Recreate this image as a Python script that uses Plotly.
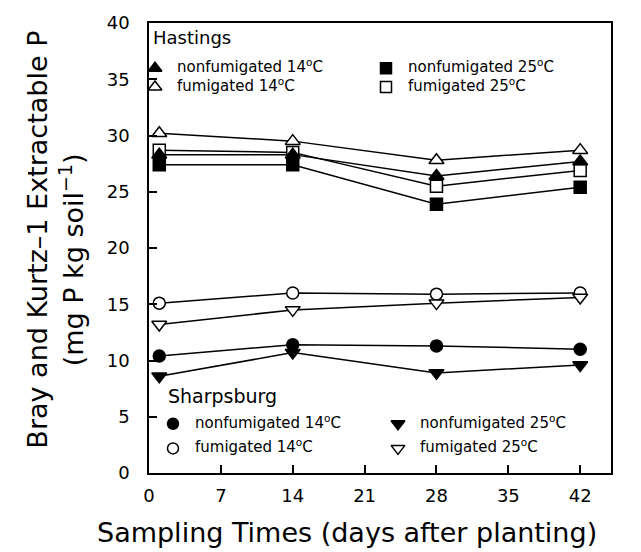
import plotly.graph_objects as go

# ---- data ----
days = [1, 14, 28, 42]

# Hastings
hast_nonfum_14 = [28.3, 28.3, 26.4, 27.7]
hast_fum_14 = [30.2, 29.5, 27.8, 28.7]
hast_nonfum_25 = [27.4, 27.4, 23.9, 25.4]
hast_fum_25 = [28.7, 28.5, 25.5, 26.9]

# Sharpsburg
sharp_nonfum_14 = [10.4, 11.4, 11.3, 11.0]
sharp_fum_14 = [15.1, 16.0, 15.9, 16.0]
sharp_nonfum_25 = [8.6, 10.7, 8.9, 9.6]
sharp_fum_25 = [13.2, 14.5, 15.1, 15.6]

x_ticks = [0, 7, 14, 21, 28, 35, 42]
y_ticks = [0, 5, 10, 15, 20, 25, 30, 35, 40]

FONT = "DejaVu Sans"

series = [
    (hast_fum_14, "triangle-up-open"),
    (hast_fum_25, "square-open"),
    (hast_nonfum_14, "triangle-up"),
    (hast_nonfum_25, "square"),
    (sharp_fum_14, "circle-open"),
    (sharp_fum_25, "triangle-down-open"),
    (sharp_nonfum_14, "circle"),
    (sharp_nonfum_25, "triangle-down"),
]

fig = go.Figure()
for vals, sym in series:
    open_ = sym.endswith("-open")
    base = sym.replace("-open", "")
    fig.add_trace(go.Scatter(
        x=days, y=vals, mode="lines+markers",
        line=dict(color="black", width=1.5),
        marker=dict(symbol=base, size=13 if "triangle" in base else 12,
                    color="white" if open_ else "black",
                    line=dict(color="black", width=1.5)),
        showlegend=False, cliponaxis=False,
    ))

# ---- legend (overlay axes in paper units) ----
L, R, T, B = 149, 611, 16, 473
W, H = R - L, B - T


def px(x):
    return (x - L) / W


def py(y):
    return (B - y) / H


legend_items = [
    # (marker px x, px y, symbol, open, text)
    (155, 62, "triangle-up", False, "nonfumigated 14<sup>o</sup>C"),
    (155, 81, "triangle-up", True, "fumigated 14<sup>o</sup>C"),
    (386, 62, "square", False, "nonfumigated 25<sup>o</sup>C"),
    (386, 81, "square", True, "fumigated 25<sup>o</sup>C"),
    (173, 423, "circle", False, "nonfumigated 14<sup>o</sup>C"),
    (173, 448, "circle", True, "fumigated 14<sup>o</sup>C"),
    (398, 423, "triangle-down", False, "nonfumigated 25<sup>o</sup>C"),
    (398, 448, "triangle-down", True, "fumigated 25<sup>o</sup>C"),
]

for mx, my, sym, open_, _ in legend_items:
    fig.add_trace(go.Scatter(
        x=[px(mx)], y=[py(my)], xaxis="x2", yaxis="y2", mode="markers",
        marker=dict(symbol=sym, size=12 if "triangle" in sym else 11,
                    color="white" if open_ else "black",
                    line=dict(color="black", width=1.5)),
        showlegend=False, hoverinfo="skip",
    ))

annotations = []
for mx, my, sym, open_, txt in legend_items:
    annotations.append(dict(
        x=px(mx + 20), y=py(my - 2), xref="paper", yref="paper",
        text=txt, showarrow=False, xanchor="left", yanchor="middle",
        font=dict(family=FONT, size=15, color="black"),
    ))
annotations.append(dict(x=px(151), y=py(31), xref="paper", yref="paper",
                        text="Hastings", showarrow=False, xanchor="left", yanchor="middle",
                        font=dict(family=FONT, size=18, color="black")))
annotations.append(dict(x=px(166), y=py(395), xref="paper", yref="paper",
                        text="Sharpsburg", showarrow=False, xanchor="left", yanchor="middle",
                        font=dict(family=FONT, size=19, color="black")))
# axis titles
annotations.append(dict(x=px(347), y=py(533), xref="paper", yref="paper",
                        text="Sampling Times (days after planting)", showarrow=False,
                        xanchor="center", yanchor="middle",
                        font=dict(family=FONT, size=27, color="black")))
annotations.append(dict(x=px(38), y=py(236), xref="paper", yref="paper",
                        text="Bray and Kurtz–1 Extractable P", showarrow=False, textangle=-90,
                        xanchor="center", yanchor="middle",
                        font=dict(family=FONT, size=27, color="black")))
annotations.append(dict(x=px(71), y=py(257), xref="paper", yref="paper",
                        text="(mg P kg soil<sup>−1</sup>)", showarrow=False, textangle=-90,
                        xanchor="center", yanchor="middle",
                        font=dict(family=FONT, size=27, color="black")))

fig.update_layout(
    width=641, height=552,
    margin=dict(l=L, r=641 - R, t=T, b=552 - B),
    paper_bgcolor="white", plot_bgcolor="white",
    font=dict(family=FONT, color="black"),
    xaxis=dict(range=[0, 45], tickvals=x_ticks, ticks="inside", ticklen=8,
               tickwidth=1.5, tickcolor="black", showline=True, linecolor="black",
               linewidth=1.5, mirror=True, showgrid=False, zeroline=False,
               tickfont=dict(family=FONT, size=18), ticklabelstandoff=6),
    yaxis=dict(range=[0, 40], tickvals=y_ticks, ticks="inside", ticklen=8,
               tickwidth=1.5, tickcolor="black", showline=True, linecolor="black",
               linewidth=1.5, mirror=True, showgrid=False, zeroline=False,
               tickfont=dict(family=FONT, size=18), ticklabelstandoff=14),
    xaxis2=dict(range=[0, 1], overlaying="x", visible=False, fixedrange=True),
    yaxis2=dict(range=[0, 1], overlaying="y", visible=False, fixedrange=True),
    annotations=annotations,
)

fig.write_html("out.html")
